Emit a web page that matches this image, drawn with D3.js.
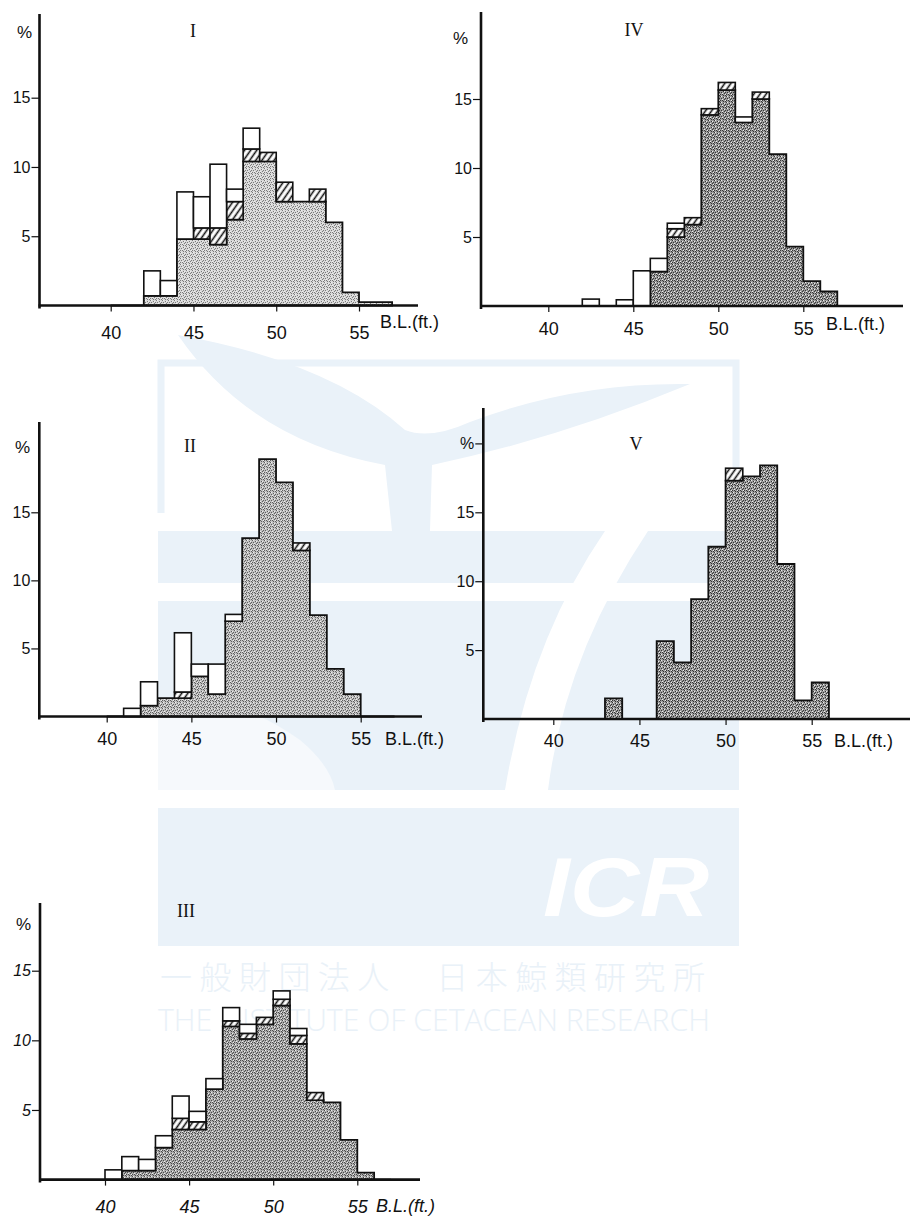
<!DOCTYPE html>
<html>
<head>
<meta charset="utf-8">
<script src="https://cdn.jsdelivr.net/npm/d3@7"></script>
<style>
  html, body { margin: 0; padding: 0; background: #fff; }
  svg { display: block; }
  .tick text { font-family: "Liberation Sans", Arial, sans-serif; fill: #111; }
</style>
</head>
<body>
<svg id="chart" width="912" height="1218"></svg>
<script>
// Body length classes (ft), one bin per foot
const lengths = d3.range(40, 57);

// Percent frequency per class: stippled, hatched and open parts of each bar
const stippledI = [0, 0, 0.7, 0.7, 4.8, 4.8, 4.4, 6.2, 10.4, 10.4, 7.5, 7.5, 7.5, 6.0, 0.95, 0.25, 0.25];
const hatchedI  = [0, 0, 0, 0, 0, 0.8, 1.2, 1.3, 0.9, 0.65, 1.4, 0, 0.9, 0, 0, 0, 0];
const openI     = [0, 0, 1.8, 1.1, 3.4, 2.25, 4.6, 0.9, 1.5, 0, 0, 0, 0, 0, 0, 0, 0];

const stippledII = [0, 0, 0.8, 1.35, 1.35, 2.95, 1.65, 7.0, 13.1, 18.9, 17.2, 12.2, 7.45, 3.5, 1.65, 0, 0];
const hatchedII  = [0, 0, 0, 0, 0.45, 0, 0, 0, 0, 0, 0, 0.55, 0, 0, 0, 0, 0];
const openII     = [0, 0.6, 1.75, 0, 4.35, 0.9, 2.2, 0.5, 0, 0, 0, 0, 0, 0, 0, 0, 0];

const stippledIII = [0, 0.65, 0.65, 2.3, 3.6, 3.6, 6.5, 11.0, 10.1, 11.15, 12.5, 9.75, 5.7, 5.55, 2.85, 0.5, 0];
const hatchedIII  = [0, 0, 0, 0, 0.8, 0.55, 0, 0.4, 0.4, 0.5, 0.45, 0.6, 0.55, 0, 0, 0, 0];
const openIII     = [0.7, 1.0, 0.8, 0.85, 1.6, 0.75, 0.75, 0.95, 0.65, 0, 0.6, 0.5, 0, 0, 0, 0, 0];

const stippledIV = [0, 0, 0, 0, 0, 0, 2.5, 5.0, 5.9, 13.85, 15.65, 13.3, 15.0, 11.0, 4.3, 1.8, 1.05];
const hatchedIV  = [0, 0, 0, 0, 0, 0, 0, 0.6, 0.5, 0.45, 0.55, 0, 0.5, 0, 0, 0, 0];
const openIV     = [0, 0, 0.5, 0, 0.45, 2.55, 0.95, 0.4, 0, 0, 0, 0.4, 0, 0, 0, 0, 0];

const stippledV = [0, 0, 0, 1.5, 0, 0, 5.65, 4.1, 8.7, 12.5, 17.3, 17.6, 18.4, 11.25, 1.35, 2.65, 0];
const hatchedV  = [0, 0, 0, 0, 0, 0, 0, 0, 0, 0, 0.9, 0, 0, 0, 0, 0, 0];
const openV     = [0, 0, 0, 0, 0, 0, 0, 0, 0, 0, 0, 0, 0, 0, 0, 0, 0];

// Axis ticks
const xTicks = [40, 45, 50, 55];
const yTicks = [5, 10, 15];

// Panel placement on the page
const layout = {
  I:   { x40: 110.7, x55: 359,   y0: 305.5,  y15: 97.7,  axisX: 39.5, top: 14,  right: 418, shade: "s1", lab: [193, 37],  pct: [17, 38],  bl: [380, 328], tickBase: 339, italic: false },
  IV:  { x40: 548.3, x55: 803.3, y0: 306,    y15: 99,    axisX: 481,  top: 12,  right: 903, shade: "s4", lab: [634, 36],  pct: [453, 44], bl: [826, 330], tickBase: 335, italic: false },
  II:  { x40: 106.7, x55: 360.7, y0: 716.5,  y15: 512.3, axisX: 39.3, top: 422, right: 422, shade: "s2", lab: [190, 452], pct: [15, 453], bl: [385, 745], tickBase: 745, italic: false },
  V:   { x40: 553.3, x55: 811.7, y0: 719,    y15: 512.3, axisX: 483.3,top: 408, right: 910, shade: "s5", lab: [636, 450], pct: null,      bl: [834, 747], tickBase: 747, italic: false },
  III: { x40: 105,   x55: 357.3, y0: 1179.6, y15: 970.7, axisX: 40,   top: 903, right: 420, shade: "s3", lab: [186, 917], pct: [16, 930], bl: [376, 1212], tickBase: 1213, italic: true }
};

const panels = [
  { name: "I",   stippled: stippledI,   hatched: hatchedI,   open: openI },
  { name: "IV",  stippled: stippledIV,  hatched: hatchedIV,  open: openIV },
  { name: "II",  stippled: stippledII,  hatched: hatchedII,  open: openII },
  { name: "V",   stippled: stippledV,   hatched: hatchedV,   open: openV },
  { name: "III", stippled: stippledIII, hatched: hatchedIII, open: openIII }
];

const svg = d3.select("#chart");
const defs = svg.append("defs");

// Stipple fills of different density
const shades = {
  s1: { base: "#d8d8d8", dot: "#7a7a7a" },
  s2: { base: "#c0c0c0", dot: "#5e5e5e" },
  s3: { base: "#acacac", dot: "#4a4a4a" },
  s4: { base: "#9a9a9a", dot: "#363636" },
  s5: { base: "#9e9e9e", dot: "#333" }
};
const dotCells = [[0,0],[3,1],[1,2],[4,3],[2,4],[5,5],[0,4],[3,5],[5,2]];
Object.entries(shades).forEach(([id, c]) => {
  const p = defs.append("pattern").attr("id", id)
    .attr("patternUnits", "userSpaceOnUse").attr("width", 6).attr("height", 6);
  p.append("rect").attr("width", 6).attr("height", 6).attr("fill", c.base);
  p.selectAll("rect.d").data(dotCells).join("rect").attr("class", "d")
    .attr("x", d => d[0]).attr("y", d => d[1]).attr("width", 1).attr("height", 1)
    .attr("fill", c.dot);
  p.selectAll("rect.l").data([[1,0],[4,1],[2,3],[5,4]]).join("rect").attr("class", "l")
    .attr("x", d => d[0]).attr("y", d => d[1]).attr("width", 1).attr("height", 1)
    .attr("fill", "#eee");
});

// Diagonal hatching
const hatch = defs.append("pattern").attr("id", "hatch")
  .attr("patternUnits", "userSpaceOnUse").attr("width", 5).attr("height", 5)
  .attr("patternTransform", "rotate(35)");
hatch.append("rect").attr("width", 5).attr("height", 5).attr("fill", "#fff");
hatch.append("line").attr("x1", 1.5).attr("y1", 0).attr("x2", 1.5).attr("y2", 5)
  .attr("stroke", "#111").attr("stroke-width", 1.6);

// Institute mark in the background
const wm = svg.append("g").attr("class", "mark");
const wmBlue = "#eaf2f9";
const wmText = "#e9f1f8";
wm.append("path")
  .attr("d", "M161,513 L161,363 L736,363 L736,513")
  .attr("fill", "none").attr("stroke", wmBlue).attr("stroke-width", 7);
wm.append("rect").attr("x", 158).attr("y", 531).attr("width", 581).attr("height", 52).attr("fill", wmBlue);
wm.append("rect").attr("x", 158).attr("y", 601).attr("width", 581).attr("height", 189).attr("fill", wmBlue);
wm.append("path")
  .attr("d", "M178,335 Q250,440 385,465 L392,531 L430,531 L432,465 Q560,438 690,384 Q575,382 470,422 Q430,440 405,430 Q330,362 178,335 Z")
  .attr("fill", wmBlue);
wm.append("path")
  .attr("d", "M605,531 Q530,640 505,790 L548,790 Q565,655 648,531 Z")
  .attr("fill", "#fff");
wm.append("path")
  .attr("d", "M158,700 Q230,690 300,740 Q330,765 335,790 L158,790 Z")
  .attr("fill", "#f6f9fc");
wm.append("rect").attr("x", 158).attr("y", 808).attr("width", 581).attr("height", 138).attr("fill", wmBlue);
wm.append("text").attr("x", 543).attr("y", 916)
  .attr("font-family", "Liberation Sans, Arial, sans-serif").attr("font-weight", "bold")
  .attr("font-style", "italic").attr("font-size", 84).attr("fill", "#fff")
  .attr("textLength", 166).attr("lengthAdjust", "spacingAndGlyphs").text("ICR");
wm.append("text").attr("x", 160).attr("y", 989)
  .attr("font-family", "Noto Sans CJK JP, sans-serif").attr("font-weight", 300)
  .attr("font-size", 32).attr("fill", wmText)
  .attr("textLength", 545).attr("lengthAdjust", "spacing").text("一般財団法人　日本鯨類研究所");
wm.append("text").attr("x", 158).attr("y", 1031)
  .attr("font-family", "Open Sans, Noto Sans, sans-serif").attr("font-weight", 300)
  .attr("font-size", 32).attr("fill", wmText)
  .attr("textLength", 552).attr("lengthAdjust", "spacingAndGlyphs").text("THE INSTITUTE OF CETACEAN RESEARCH");

// Histograms
panels.forEach(p => {
  const L = layout[p.name];
  const x = d3.scaleLinear().domain([40, 55]).range([L.x40, L.x55]);
  const y = d3.scaleLinear().domain([0, 15]).range([L.y0, L.y15]);
  const g = svg.append("g").attr("class", "panel-" + p.name);

  const rows = lengths.map((len, i) => ({
    len, stippled: p.stippled[i], hatched: p.hatched[i], open: p.open[i]
  }));
  const series = d3.stack().keys(["stippled", "hatched", "open"])(rows);

  // Stippled part as one stepped area (no seams between classes)
  const pts = rows.map(r => ({ len: r.len, v: r.stippled }));
  pts.push({ len: rows[rows.length - 1].len + 1, v: rows[rows.length - 1].stippled });
  const area = d3.area().curve(d3.curveStepAfter)
    .x(d => x(d.len)).y0(y(0)).y1(d => y(d.v));
  g.append("path").datum(pts).attr("d", area)
    .attr("fill", `url(#${L.shade})`).attr("stroke", "#111")
    .attr("stroke-width", 1.8).attr("stroke-linejoin", "miter");

  // Hatched and open parts as outlined boxes on top
  [["hatched", "url(#hatch)"], ["open", "#fff"]].forEach(([key, fill]) => {
    const s = series.find(d => d.key === key);
    g.selectAll("rect." + key).data(s.filter(d => d[1] - d[0] > 0)).join("rect")
      .attr("class", key)
      .attr("x", d => x(d.data.len))
      .attr("y", d => y(d[1]))
      .attr("width", d => x(d.data.len + 1) - x(d.data.len))
      .attr("height", d => y(d[0]) - y(d[1]))
      .attr("fill", fill).attr("stroke", "#111").attr("stroke-width", 1.6);
  });

  // Axes
  const yVals = p.name === "V" ? yTicks.concat([20]) : yTicks;
  const yAxis = d3.axisLeft(y).tickValues(yVals).tickSize(8).tickPadding(1)
    .tickFormat(d => d === 20 ? "%" : d);
  const ya = g.append("g").attr("transform", `translate(${L.axisX},0)`).call(yAxis);
  ya.select(".domain").remove();
  ya.selectAll(".tick line").attr("stroke", "#111").attr("stroke-width", 1.2);
  ya.selectAll(".tick text").attr("font-size", 16)
    .attr("font-style", L.italic ? "italic" : null);

  const xAxis = d3.axisBottom(x).tickValues(xTicks).tickSize(6).tickPadding(0);
  const xa = g.append("g").attr("transform", `translate(0,${y(0)})`).call(xAxis);
  xa.select(".domain").remove();
  xa.selectAll(".tick line").attr("stroke", "#111").attr("stroke-width", 1.2);
  xa.selectAll(".tick text").attr("font-size", 18).attr("dy", null)
    .attr("y", L.tickBase - y(0))
    .attr("font-style", L.italic ? "italic" : null);

  // Axis lines
  g.append("line").attr("x1", L.axisX).attr("x2", L.axisX)
    .attr("y1", L.top).attr("y2", y(0) + 3)
    .attr("stroke", "#111").attr("stroke-width", 2.6);
  g.append("line").attr("x1", L.axisX - 1).attr("x2", L.right)
    .attr("y1", y(0)).attr("y2", y(0))
    .attr("stroke", "#111").attr("stroke-width", 2.6);

  // Labels
  g.append("text").attr("x", L.lab[0]).attr("y", L.lab[1])
    .attr("text-anchor", "middle")
    .attr("font-family", "Liberation Serif, Times New Roman, serif")
    .attr("font-size", 18).attr("fill", "#111").text(p.name);
  if (L.pct) {
    g.append("text").attr("x", L.pct[0]).attr("y", L.pct[1])
      .attr("font-family", "Liberation Sans, Arial, sans-serif")
      .attr("font-size", 17).attr("fill", "#111").text("%");
  }
  g.append("text").attr("x", L.bl[0]).attr("y", L.bl[1])
    .attr("font-family", "Liberation Sans, Arial, sans-serif")
    .attr("font-size", 18).attr("fill", "#111")
    .attr("font-style", L.italic ? "italic" : null)
    .text("B.L.(ft.)");
});
</script>
</body>
</html>
